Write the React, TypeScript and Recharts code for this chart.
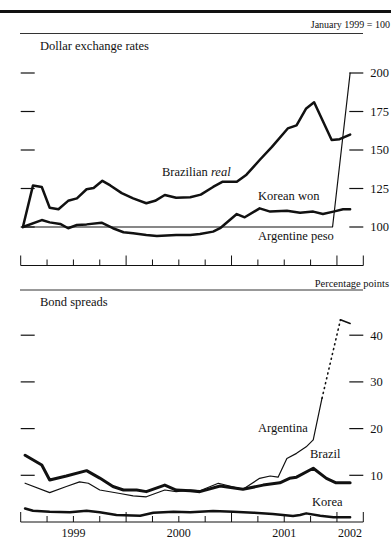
import React from 'react';
import { LineChart, Line, XAxis, YAxis } from 'recharts';

// months since 1 Jan 1999
const quarterTicks = [0, 3, 6, 9, 12, 15, 18, 21, 24, 27, 30, 33, 36, 39];
const yearTickPos = [6, 18, 30, 37.5];
const yearLabels = ['1999', '2000', '2001', '2002'];

const rateTicks = [100, 125, 150, 175, 200];
const spreadTicks = [10, 20, 30, 40];

// Dollar exchange rates, January 1999 = 100
const realT = [0.25, 1.4, 2.4, 3.3, 4.3, 5.4, 6.4, 7.5, 8.3, 9.3, 10.2, 11.5, 12.8, 14.3, 15.3, 16.4, 17.7, 19.3, 20.5, 21.9, 23.0, 24.6, 25.7, 27.2, 28.6, 30.4, 31.4, 32.5, 33.4, 35.4, 36.3, 37.5];
const realV = [100, 127, 126, 112.5, 111.5, 117, 118.6, 124.5, 125.3, 130, 127, 122, 118.6, 115.4, 117, 120.8, 119, 119.3, 121, 126, 129.4, 129.4, 134, 143.5, 152, 164, 166, 177, 181, 156.5, 157, 160];

const wonT = [0.25, 2.4, 3.3, 4.5, 5.4, 6.4, 7.5, 9.2, 10.5, 11.7, 12.8, 14.3, 15.5, 17.7, 19.3, 20.4, 21.9, 22.7, 24.6, 25.5, 27.2, 28.4, 30.3, 31.8, 33.3, 34.4, 35.6, 36.7, 37.5];
const wonV = [100, 104.5, 103, 102, 99.2, 101.3, 101.7, 102.8, 99.2, 96.6, 95.9, 94.8, 94.2, 94.8, 94.8, 95.5, 97, 99.2, 108.4, 106.3, 112.1, 110, 110.6, 109.3, 110, 108.4, 110, 111.5, 111.5];

const pesoT = [0.25, 35.5, 37.5];
const pesoV = [100, 100, 200];

// Bond spreads, percentage points
const brazilT = [0.5, 2.4, 3.3, 5.2, 7.5, 9.0, 10.5, 11.7, 13.2, 14.3, 16.4, 17.7, 19.3, 20.4, 22.7, 25.3, 27.6, 29.5, 30.6, 31.4, 33.3, 34.8, 35.9, 37.5];
const brazilV = [14.3, 12.2, 9.0, 9.85, 11, 9.4, 7.6, 6.85, 6.85, 6.5, 7.9, 6.85, 6.7, 6.5, 7.7, 7.0, 7.9, 8.4, 9.35, 9.6, 11.5, 9.35, 8.4, 8.4];

const argT = [0.5, 3.3, 5.2, 6.7, 7.7, 9.0, 11.3, 12.8, 14.3, 16.4, 17.7, 19.3, 20.4, 22.5, 25.3, 27.2, 28.4, 29.3, 30.3, 31.4, 32.5, 33.3, 34.3];
const argV = [8.3, 6.3, 7.6, 8.6, 8.3, 6.85, 6.1, 5.6, 5.4, 6.85, 6.5, 6.85, 6.7, 8.3, 7.0, 9.35, 9.85, 9.6, 13.6, 14.7, 16.1, 17.6, 26.5];
const argDotT = [34.3, 36.4];
const argDotV = [26.5, 43.3];
const argTailT = [36.4, 37.5];
const argTailV = [43.3, 42.5];

const koreaT = [0.5, 1.4, 3.3, 5.6, 7.5, 9.0, 10.9, 13.6, 15.1, 17.4, 19.3, 21.9, 24.2, 26.5, 28.7, 31.0, 31.8, 32.5, 34.1, 35.6, 37.5];
const koreaV = [2.9, 2.4, 2.2, 2.1, 2.4, 2.1, 1.5, 1.35, 2.0, 2.2, 2.1, 2.35, 2.2, 2.0, 1.7, 1.3, 1.5, 1.85, 1.35, 1.0, 1.0];

const toPoints = (ts: number[], vs: number[]) => ts.map((t, i) => ({ t, v: vs[i] }));

const INK = '#111';
const FONT = '"Liberation Serif", "Times New Roman", serif';

const QuarterTick = (props: any) => {
  const { x, y, payload } = props;
  const tall = payload.value % 12 === 0 || payload.value === 39;
  return <line x1={x} x2={x} y1={y} y2={y - (tall ? 10 : 6)} stroke={INK} strokeWidth={1} />;
};

const YearTick = (props: any) => {
  const { x, y, payload } = props;
  const i = yearTickPos.indexOf(payload.value);
  return (
    <text x={x} y={y + 14} textAnchor="middle" fontSize={12} fontFamily={FONT} fill={INK}>
      {yearLabels[i]}
    </text>
  );
};

const RightTick = (props: any) => {
  const { x, y, payload } = props;
  return (
    <g>
      <line x1={x - 14} x2={x} y1={y} y2={y} stroke={INK} strokeWidth={1.2} />
      <text x={x + 7} y={y + 4.3} fontSize={12.5} fontFamily={FONT} fill={INK}>{payload.value}</text>
    </g>
  );
};

const LeftTick = (props: any) => {
  const { x, y } = props;
  return <line x1={x} x2={x + 14} y1={y} y2={y} stroke={INK} strokeWidth={1.2} />;
};

// plot spans x 20.7 .. 363.3; each y axis takes 1px
const margins = { left: 19.7, right: 26.7 };

const Panel = ({ top, height, mTop, mBottom, domain, ticks, showYears, children }: any) => (
  <div style={{ position: 'absolute', left: 0, top, width: 391, height }}>
    <LineChart width={391} height={height} margin={{ top: mTop, bottom: mBottom, ...margins }}>
      <XAxis xAxisId="q" type="number" dataKey="t" domain={[0, 39]} ticks={quarterTicks} interval={0}
        height={1} tickSize={0} tickMargin={0} tickLine={false} tick={<QuarterTick />}
        axisLine={{ stroke: INK, strokeWidth: 1 }} allowDataOverflow />
      {showYears && (
        <XAxis xAxisId="yr" type="number" dataKey="t" domain={[0, 39]} ticks={yearTickPos} interval={0}
          height={19} tickSize={0} tickMargin={0} tickLine={false} axisLine={false} tick={<YearTick />} allowDataOverflow />
      )}
      <YAxis yAxisId="l" orientation="left" type="number" domain={domain} ticks={ticks} interval={0}
        width={1} tickSize={0} tickMargin={0} tickLine={false} axisLine={false} tick={<LeftTick />} allowDataOverflow />
      <YAxis yAxisId="r" orientation="right" type="number" domain={domain} ticks={ticks} interval={0}
        width={1} tickSize={0} tickMargin={0} tickLine={false} axisLine={false} tick={<RightTick />} allowDataOverflow />
      {children}
    </LineChart>
  </div>
);

const series = (key: string, data: any[], width: number, dash?: string) => (
  <Line key={key} xAxisId="q" yAxisId="r" data={data} dataKey="v" type="linear" stroke={INK}
    strokeWidth={width} strokeDasharray={dash} strokeLinecap="round" strokeLinejoin="round"
    dot={false} activeDot={false} isAnimationActive={false} />
);

export default function App() {
  return (
    <div style={{ position: 'absolute', left: 0, top: 0, width: 391, height: 542, background: '#fff' }}>
      <Panel top={0} height={280} mTop={34.5} mBottom={13.5} domain={[75, 225]} ticks={rateTicks} showYears={false}>
        {series('peso', toPoints(pesoT, pesoV), 1.2)}
        {series('won', toPoints(wonT, wonV), 2.5)}
        {series('real', toPoints(realT, realV), 2.5)}
      </Panel>
      <Panel top={280} height={262} mTop={8.5} mBottom={0} domain={[0, 50]} ticks={spreadTicks} showYears>
        {series('arg', toPoints(argT, argV), 1.2)}
        {series('argDot', toPoints(argDotT, argDotV), 1.6, '1 4')}
        {series('argTail', toPoints(argTailT, argTailV), 1.6)}
        {series('korea', toPoints(koreaT, koreaV), 2.5)}
        {series('brazil', toPoints(brazilT, brazilV), 3)}
      </Panel>
      <svg width={391} height={542} style={{ position: 'absolute', left: 0, top: 0, pointerEvents: 'none' }}
        fontFamily={FONT} fill={INK}>
        <rect x={0} y={10} width={391} height={3} fill={INK} />
        <line x1={20} x2={363} y1={33.5} y2={33.5} stroke="#333" strokeWidth={1} />
        <line x1={20} x2={363} y1={290} y2={290} stroke="#333" strokeWidth={1} />
        <text x={390} y={28} textAnchor="end" fontSize={10}>January 1999 = 100</text>
        <text x={40} y={50} fontSize={12.5}>Dollar exchange rates</text>
        <text x={389} y={287} textAnchor="end" fontSize={10.5}>Percentage points</text>
        <text x={40} y={306} fontSize={12.5}>Bond spreads</text>
        <text x={162} y={176} fontSize={12.5}>Brazilian <tspan fontStyle="italic">real</tspan></text>
        <text x={258} y={200} fontSize={12.5}>Korean won</text>
        <text x={258} y={240} fontSize={12.5}>Argentine peso</text>
        <text x={258} y={432} fontSize={12.5}>Argentina</text>
        <text x={310} y={458} fontSize={12.5}>Brazil</text>
        <text x={312} y={506} fontSize={12.5}>Korea</text>
      </svg>
    </div>
  );
}
